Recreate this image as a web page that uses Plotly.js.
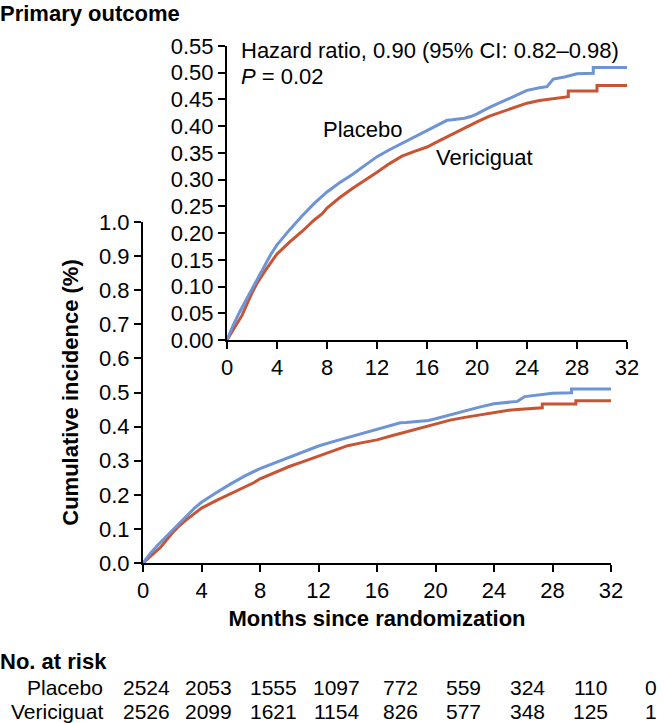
<!DOCTYPE html>
<html>
<head>
<meta charset="utf-8">
<script src="https://cdn.plot.ly/plotly-3.0.1.min.js"></script>
<style>html,body{margin:0;padding:0;background:#fff;}#chart{width:664px;height:723px;}</style>
</head>
<body>
<div id="chart"></div>
<script>
// ---- data ----
const placeboMonths = [0,0.5,1,1.3,2,2.5,3,3.5,4,4.5,5,6,7,8,9,10,11,12,13,14,15,16,17,17.6,18,19,19.5,20,21,22,23,24,25,25.6,26.1,27,28,29.3,29.3,32];
const placeboInc    = [0,0.028,0.052,0.065,0.095,0.118,0.140,0.160,0.178,0.193,0.206,0.232,0.256,0.277,0.294,0.309,0.326,0.343,0.356,0.368,0.380,0.393,0.405,0.411,0.412,0.415,0.418,0.423,0.435,0.446,0.457,0.467,0.472,0.474,0.488,0.492,0.498,0.499,0.510,0.510];
const vericMonths   = [0,0.5,1,1.2,2,2.4,3,4,5,6,7,7.6,8,9,10,11,12,13,14,15,16,17,18,19,20,21,22,23,24,25,25.6,27.3,27.3,29.6,29.6,32];
const vericInc      = [0,0.020,0.040,0.046,0.088,0.106,0.128,0.161,0.183,0.203,0.225,0.236,0.247,0.266,0.283,0.298,0.314,0.330,0.344,0.353,0.361,0.373,0.385,0.396,0.408,0.419,0.427,0.434,0.443,0.448,0.450,0.455,0.466,0.466,0.476,0.476];
const xTicks        = [0,4,8,12,16,20,24,28,32];
const riskLabels    = ['Placebo','Vericiguat'];
const riskPlacebo   = [2524,2053,1555,1097,772,559,324,110,0];
const riskVeric     = [2526,2099,1621,1154,826,577,348,125,1];

const blue = 'rgb(110,148,214)';
const red  = 'rgb(201,84,52)';
const FONT = 'Arial, "Liberation Sans", sans-serif';
const FS = 22;
const TFS = 21;
const W = 664, H = 723;
const px = v => v / W;
const py = v => 1 - v / H;

const traces = [];
[['x','y'],['x2','y2']].forEach(([xa,ya]) => {
  traces.push({x: vericMonths, y: vericInc, xaxis: xa, yaxis: ya, mode: 'lines',
    line: {color: red, width: 3}, hoverinfo: 'skip', showlegend: false});
  traces.push({x: placeboMonths, y: placeboInc, xaxis: xa, yaxis: ya, mode: 'lines',
    line: {color: blue, width: 3}, hoverinfo: 'skip', showlegend: false});
});

const axBase = {showline: true, linecolor: '#000', linewidth: 2, ticks: 'outside',
  ticklen: 7, tickwidth: 2, tickcolor: '#000', showgrid: false, zeroline: false,
  tickfont: {family: FONT, size: FS, color: '#000'}, fixedrange: true};

const layout = {
  width: W, height: H,
  margin: {l: 0, r: 0, t: 0, b: 0},
  paper_bgcolor: '#fff', plot_bgcolor: 'rgba(0,0,0,0)',
  font: {family: FONT, color: '#000'},
  xaxis: Object.assign({}, axBase, {domain: [px(143), px(611)], range: [0, 32],
    tickvals: xTicks, anchor: 'y',
    title: {text: '<b>Months since randomization</b>', font: {family: FONT, size: FS}, standoff: 8}}),
  yaxis: Object.assign({}, axBase, {domain: [py(563), py(222)], range: [0, 1],
    dtick: 0.1, tickformat: '.1f', anchor: 'x',
    title: {text: '<b>Cumulative incidence (%)</b>', font: {family: FONT, size: FS}, standoff: 14}}),
  xaxis2: Object.assign({}, axBase, {domain: [px(227), px(627)], range: [0, 32],
    tickvals: xTicks, anchor: 'y2'}),
  yaxis2: Object.assign({}, axBase, {domain: [py(340), py(46)], range: [0, 0.55],
    dtick: 0.05, tickformat: '.2f', anchor: 'x2'}),
  annotations: []
};

const ann = (text, x, y, opts) => layout.annotations.push(Object.assign({
  text, x: px(x), y: py(y), xref: 'paper', yref: 'paper', showarrow: false,
  xanchor: 'left', yanchor: 'middle', borderpad: 0, font: {family: FONT, size: FS, color: '#000'}
}, opts || {}));

const tfont = {family: FONT, size: TFS, color: '#000'};
ann('<b>Primary outcome</b>', -1, 0, {yanchor: 'top'});
ann('Hazard ratio, 0.90 (95% CI: 0.82–0.98)', 240, 51);
ann('<i>P</i> = 0.02', 240, 77);
ann('Placebo', 322, 129);
ann('Vericiguat', 435, 157);
ann('<b>No. at risk</b>', -1, 661);
ann(riskLabels[0], 104, 687, {xanchor: 'right', font: tfont});
ann(riskLabels[1], 104, 711, {xanchor: 'right', font: tfont});

// column centres of the at-risk table, in pixels (evenly spaced, last column at right edge)
const riskCenters = [146, 209, 273, 336, 400, 463, 527, 590, 651];
riskPlacebo.forEach((v, i) => ann(String(v), riskCenters[i], 687, {xanchor: 'center', font: tfont}));
riskVeric.forEach((v, i) => ann(String(v), riskCenters[i], 711, {xanchor: 'center', font: tfont}));

Plotly.newPlot('chart', traces, layout, {displayModeBar: false, staticPlot: true});
</script>
</body>
</html>
